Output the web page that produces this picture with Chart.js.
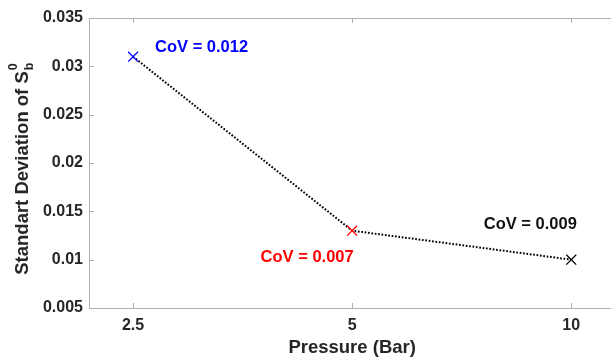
<!DOCTYPE html>
<html>
<head>
<meta charset="utf-8">
<script src="https://cdn.jsdelivr.net/npm/chart.js@4"></script>
<style>
    html, body { margin: 0; padding: 0; background: #ffffff; overflow: hidden; }
    #wrap { width: 611px; height: 361px; }
</style>
</head>
<body>
<div id="wrap"><canvas id="stdChart"></canvas></div>
<script>
// Data
const pressures = ['2.5', '5', '10'];            // x categories (Bar)
const stdDev = [0.031, 0.013, 0.010];            // standard deviation of S_b^0
const markerColors = ['#0000ff', '#ff0000', '#000000'];
const covLabels = ['CoV = 0.012', 'CoV = 0.007', 'CoV = 0.009'];
const yTickValues = [0.005, 0.01, 0.015, 0.02, 0.025, 0.03, 0.035];

const FONT = "'Liberation Sans', Arial, Helvetica, sans-serif";
const TEXT_COLOR = '#262626';
const AXIS_COLOR = '#b0b0b0';

// Frame + inward tick marks, like the original figure
// (the right edge of the box is cut off in the original, so top/bottom run to the canvas edge)
const framePlugin = {
    id: 'frame',
    afterDraw(chart) {
        const { ctx, chartArea: a, scales } = chart;
        const edge = chart.width;
        ctx.save();
        ctx.strokeStyle = AXIS_COLOR;
        ctx.lineWidth = 1;
        ctx.beginPath();
        ctx.moveTo(edge, a.top + 0.5);
        ctx.lineTo(a.left + 0.5, a.top + 0.5);
        ctx.lineTo(a.left + 0.5, a.bottom + 0.5);
        ctx.lineTo(edge, a.bottom + 0.5);
        // x ticks on bottom and top
        scales.x.ticks.forEach(t => {
            const px = Math.round(scales.x.getPixelForValue(t.value)) + 0.5;
            ctx.moveTo(px, a.bottom);
            ctx.lineTo(px, a.bottom - 5);
            ctx.moveTo(px, a.top);
            ctx.lineTo(px, a.top + 5);
        });
        // y ticks on the left
        scales.y.ticks.forEach(t => {
            const py = Math.round(scales.y.getPixelForValue(t.value)) + 0.5;
            ctx.moveTo(a.left, py);
            ctx.lineTo(a.left + 5, py);
        });
        ctx.stroke();
        ctx.restore();
    }
};

// Axis titles; the y one has sub/superscript: Standart Deviation of S_b^0
const titlesPlugin = {
    id: 'axisTitles',
    afterDraw(chart) {
        const { ctx, scales } = chart;
        ctx.save();
        ctx.fillStyle = TEXT_COLOR;
        ctx.font = 'bold 18.5px ' + FONT;

        // x title, centred under the middle tick like the original
        ctx.textAlign = 'center';
        ctx.textBaseline = 'middle';
        ctx.fillText('Pressure (Bar)', scales.x.getPixelForValue(1), 347.5);

        const main = 'Standart Deviation of S';
        ctx.textBaseline = 'alphabetic';
        ctx.textAlign = 'left';
        const w = ctx.measureText(main).width;
        const midY = (chart.chartArea.top + chart.chartArea.bottom) / 2;
        ctx.translate(28, midY + (w + 10) / 2 + 5);
        ctx.rotate(-Math.PI / 2);
        ctx.fillText(main, 0, 0);
        ctx.font = 'bold 12.5px ' + FONT;
        ctx.fillText('0', w + 1, -11);
        ctx.fillText('b', w + 1, 5);
        ctx.restore();
    }
};

// CoV annotations next to each point (pixel offsets from the marker)
const covPlugin = {
    id: 'covLabels',
    offsets: [[22, -5, 'left'], [-45, 31, 'center'], [-41, -31, 'center']],
    afterDatasetsDraw(chart) {
        const { ctx, scales } = chart;
        ctx.save();
        ctx.font = 'bold 16.5px ' + FONT;
        ctx.textBaseline = 'alphabetic';
        covLabels.forEach((txt, i) => {
            const [dx, dy, align] = this.offsets[i];
            const px = scales.x.getPixelForValue(i);
            const py = scales.y.getPixelForValue(stdDev[i]);
            ctx.fillStyle = markerColors[i] === '#000000' ? '#111111' : markerColors[i];
            ctx.textAlign = align;
            ctx.fillText(txt, px + dx, py + dy);
        });
        ctx.restore();
    }
};

new Chart(document.getElementById('stdChart'), {
    type: 'scatter',
    data: {
        datasets: [{
            data: stdDev.map((v, i) => ({ x: i, y: v })),
            showLine: true,
            borderColor: '#000000',
            borderWidth: 2,
            borderDash: [1.7, 1.7],
            pointStyle: 'crossRot',
            pointRadius: 7,
            pointHoverRadius: 7,
            pointBorderWidth: 1.3,
            pointBorderColor: markerColors,
            pointBackgroundColor: markerColors
        }]
    },
    options: {
        responsive: true,
        maintainAspectRatio: false,
        animation: false,
        clip: false,
        layout: { padding: { top: 18, right: 0, left: 0, bottom: 0 } },
        plugins: {
            legend: { display: false },
            tooltip: { enabled: false }
        },
        scales: {
            x: {
                type: 'linear',
                min: -0.201,
                max: 2.1435,
                afterBuildTicks: (s) => { s.ticks = pressures.map((p, i) => ({ value: i })); },
                afterFit: (s) => { s.height = 53; },
                grid: { display: false, drawTicks: false },
                border: { display: false },
                ticks: {
                    padding: 8,
                    color: TEXT_COLOR,
                    font: { family: FONT, size: 16, weight: 'bold' },
                    callback: (v) => pressures[v]
                }
            },
            y: {
                min: 0.005,
                max: 0.035,
                afterBuildTicks: (s) => { s.ticks = yTickValues.map(v => ({ value: v })); },
                afterFit: (s) => { s.width = 89; },
                grid: { display: false, drawTicks: false },
                border: { display: false },
                ticks: {
                    padding: 6,
                    color: TEXT_COLOR,
                    font: { family: FONT, size: 16, weight: 'bold' },
                    callback: (v) => String(+v.toFixed(3))
                }
            }
        }
    },
    plugins: [framePlugin, titlesPlugin, covPlugin]
});
</script>
</body>
</html>
